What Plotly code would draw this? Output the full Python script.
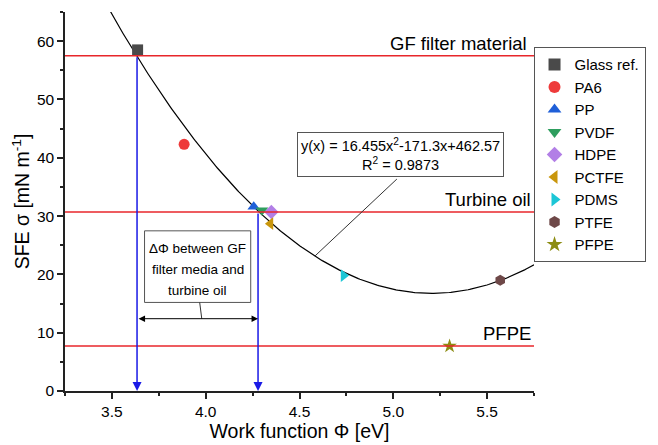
import numpy as np
import plotly.graph_objects as go

# ---- data ----
materials = ["Glass ref.", "PA6", "PP", "PVDF", "HDPE", "PCTFE", "PDMS", "PTFE", "PFPE"]
work_function = [3.637, 3.885, 4.256, 4.30, 4.35, 4.345, 4.735, 5.57, 5.30]
sfe = [58.5, 42.3, 31.6, 31.0, 30.7, 28.7, 19.8, 19.0, 7.7]
symbols = ["square", "circle", "triangle-up", "triangle-down", "diamond",
           "triangle-left", "triangle-right", "hexagon", "star"]
colors = ["#4a4a4a", "#ee3b3b", "#1f5fd8", "#2e9e5e", "#b27fe6",
          "#c9960c", "#1cc6d6", "#6e4848", "#8c8c12"]

fit_coeffs = [16.455, -171.3, 462.57]  # y = a x^2 + b x + c
ref_levels = [57.5, 30.7, 7.7]
ref_labels = ["GF filter material", "Turbine oil", "PFPE"]
gf_wf, oil_wf = 3.634, 4.279
x_range = [3.25, 5.75]
y_range = [0, 65]

FONT = "Arial, Liberation Sans, sans-serif"

fig = go.Figure()

# fit curve
xf = np.linspace(x_range[0], x_range[1], 300)
yf = np.polyval(fit_coeffs, xf)
fig.add_trace(go.Scatter(x=xf, y=yf, mode="lines", line=dict(color="black", width=1.2),
                         showlegend=False, hoverinfo="skip"))

for name, xv, yv, sym, col in zip(materials, work_function, sfe, symbols, colors):
    fig.add_trace(go.Scatter(x=[xv], y=[yv], mode="markers", name=name,
                             marker=dict(symbol=sym, color=col, size=11, line=dict(width=0))))

# reference lines
for lvl, lab, xs in zip(ref_levels, ref_labels, [-5, -1, -1]):
    fig.add_shape(type="line", xref="paper", x0=0, x1=1, yref="y", y0=lvl, y1=lvl,
                  line=dict(color="#e8262b", width=1.5))
    fig.add_annotation(xref="paper", x=1, yref="y", y=lvl, text=lab, showarrow=False,
                       xanchor="right", yanchor="bottom", xshift=xs, yshift=0,
                       font=dict(family=FONT, size=18.5, color="black"))

# blue vertical arrows
for wf, lvl in [(gf_wf, ref_levels[0]), (oil_wf, ref_levels[1])]:
    fig.add_annotation(x=wf, y=0, ax=wf, ay=lvl, xref="x", yref="y", axref="x", ayref="y",
                       showarrow=True, arrowhead=2, arrowsize=1.2, arrowwidth=1.5,
                       arrowcolor="#1a1ae6", text="")

# double arrow (delta phi)
fig.add_annotation(x=oil_wf, y=12.4, ax=gf_wf, ay=12.4, xref="x", yref="y", axref="x", ayref="y",
                   showarrow=True, arrowhead=2, startarrowhead=2, arrowside="end+start",
                   arrowsize=1.3, startarrowsize=1.3, arrowwidth=1, arrowcolor="black", text="")

# fit equation box
fig.add_annotation(x=5.04, y=40.6, xref="x", yref="y", showarrow=False,
                   text="y(x) = 16.455x<sup>2</sup>-171.3x+462.57<br>R<sup>2</sup> = 0.9873",
                   font=dict(family=FONT, size=14.5, color="black"), align="center",
                   bordercolor="#555555", borderwidth=1, borderpad=3, bgcolor="white")
fig.add_shape(type="line", xref="x", yref="y", x0=5.019, y0=36.35, x1=4.582,
              y1=float(np.polyval(fit_coeffs, 4.582)),
              line=dict(color="#333333", width=1))

# delta phi box
fig.add_shape(type="rect", xref="x", yref="y", x0=3.674, x1=4.240, y0=15.19, y1=27.47,
              line=dict(color="#555555", width=1), fillcolor="white", layer="above")
for txt, ty in zip(["ΔΦ between GF", "filter media and", "turbine oil"], [24.5, 20.8, 17.2]):
    fig.add_annotation(x=3.957, y=ty, xref="x", yref="y", showarrow=False, text=txt,
                       font=dict(family=FONT, size=13.5, color="black"))
fig.add_shape(type="line", xref="x", yref="y", x0=3.968, y0=15.19, x1=3.979, y1=12.4,
              line=dict(color="#333333", width=1))

fig.update_layout(
    width=658, height=445,
    margin=dict(l=57, r=132, t=4, b=62),
    paper_bgcolor="white", plot_bgcolor="white",
    font=dict(family=FONT, size=15.5, color="black"),
    legend=dict(x=0.999, y=0.907, xanchor="left", yanchor="top",
                bordercolor="#555555", borderwidth=1, bgcolor="white",
                entrywidth=90, entrywidthmode="pixels",
                font=dict(family=FONT, size=15), itemsizing="constant", tracegroupgap=0),
    xaxis=dict(range=x_range, showline=True, linecolor="#222222", linewidth=1.5,
               ticks="outside", ticklen=6, tickwidth=1.5, tickcolor="#222222",
               tick0=3.5, dtick=0.5, tickformat=".1f", showgrid=False, zeroline=False,
               automargin=False, tickfont=dict(size=15.5),
               minor=dict(ticks="outside", ticklen=3, tick0=3.25, dtick=0.25, tickcolor="#222222"),
               title=dict(text="Work function Φ [eV]", font=dict(size=19.5), standoff=2)),
    yaxis=dict(range=y_range, showline=True, linecolor="#222222", linewidth=1.5,
               ticks="outside", ticklen=6, tickwidth=1.5, tickcolor="#222222",
               tick0=0, dtick=10, showgrid=False, zeroline=False,
               automargin=False, tickfont=dict(size=15.5),
               minor=dict(ticks="outside", ticklen=3, dtick=5, tickcolor="#222222"),
               title=dict(text="SFE σ [mN m<sup>-1</sup>]", font=dict(size=19.5), standoff=2)),
)

fig.write_html("out.html")
